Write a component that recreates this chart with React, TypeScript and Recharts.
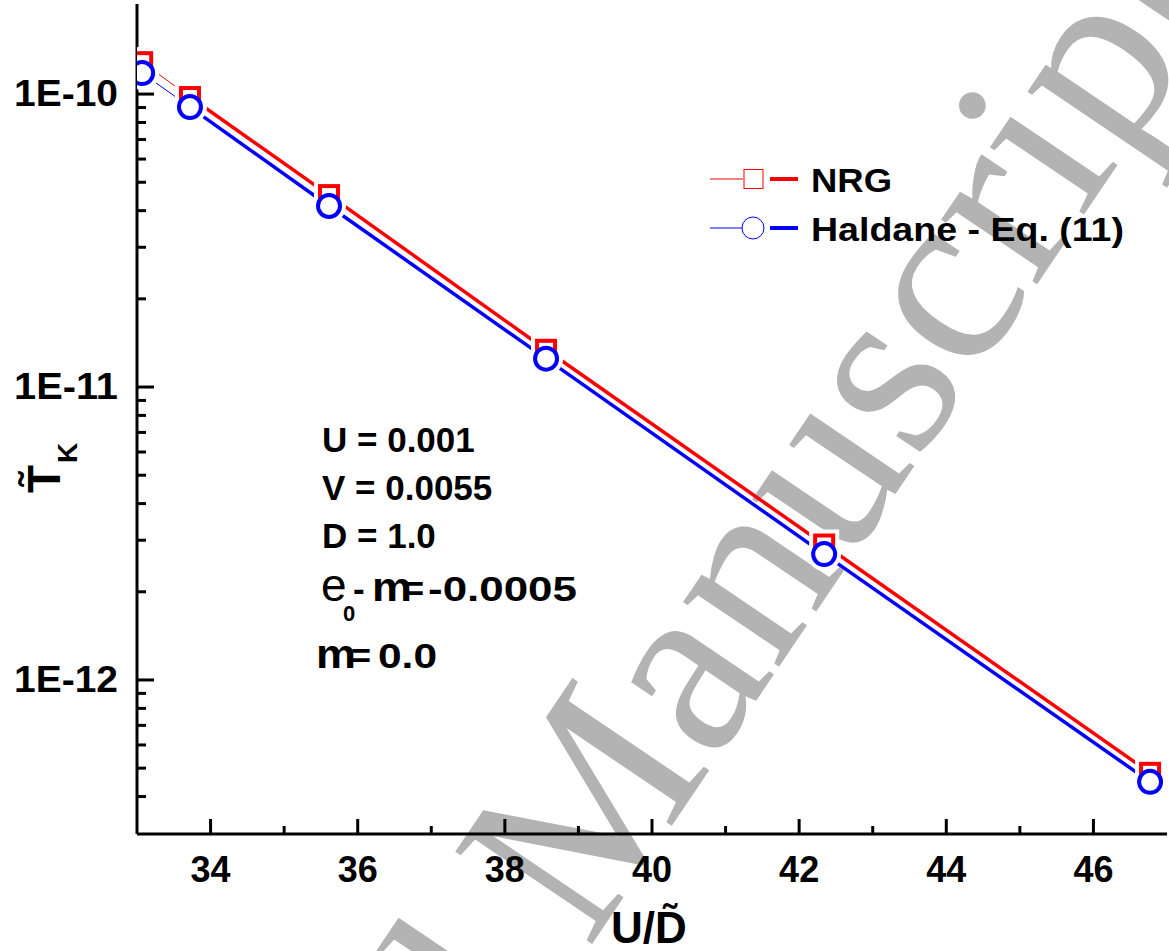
import React from 'react';
import { LineChart, Line, XAxis, YAxis, Legend } from 'recharts';

// Kondo temperature vs U/D (log scale) — NRG vs Haldane formula
const FONT = '"Liberation Sans", Arial, Helvetica, sans-serif';
const SERIF = '"Liberation Serif", "Times New Roman", serif';
const RED = '#ff0000';
const BLUE = '#0000ff';

const uOverD = [33.07, 33.72, 35.61, 38.56, 42.34, 46.77];
const nrgTk = [1.285e-10, 9.77e-11, 4.52e-11, 1.34e-11, 2.9e-12, 4.82e-13];
const haldaneTk = [1.18e-10, 9.03e-11, 4.15e-11, 1.25e-11, 2.69e-12, 4.49e-13];

const xTicks = [34, 35, 36, 37, 38, 39, 40, 41, 42, 43, 44, 45, 46];
const xMajor = [34, 36, 38, 40, 42, 44, 46];
const yTicks = [
  4e-13, 5e-13, 6e-13, 7e-13, 8e-13, 9e-13,
  1e-12, 2e-12, 3e-12, 4e-12, 5e-12, 6e-12, 7e-12, 8e-12, 9e-12,
  1e-11, 2e-11, 3e-11, 4e-11, 5e-11, 6e-11, 7e-11, 8e-11, 9e-11,
  1e-10,
];
const yMajor = [1e-12, 1e-11, 1e-10];
const yMajorLabels = ['1E-12', '1E-11', '1E-10'];

const paramLines = ['U = 0.001', 'V = 0.0055', 'D = 1.0'];
const legendOrder = ['NRG', 'Haldane - Eq. (11)'];

// thin segment between the first two points, thick afterwards
const data = uOverD.map((x, i) => ({
  x,
  nrg: nrgTk[i],
  hal: haldaneTk[i],
  nrgThick: i === 0 ? null : nrgTk[i],
  halThick: i === 0 ? null : haldaneTk[i],
}));

const LeftTick = ({ x, y, payload }: any) => {
  const idx = yMajor.indexOf(payload.value);
  const major = idx >= 0;
  return (
    <g>
      <line x1={x} x2={x + (major ? 17 : 9)} y1={y} y2={y} stroke="#000" strokeWidth={3} />
      {major && (
        <text x={x - 19} y={y + 12} textAnchor="end" fontFamily={FONT} fontWeight="bold" fontSize={36}
          textLength={104} lengthAdjust="spacingAndGlyphs" fill="#000">
          {yMajorLabels[idx]}
        </text>
      )}
    </g>
  );
};

const RightTick = ({ x, y, payload }: any) => {
  const major = yMajor.includes(payload.value);
  return <line x1={x} x2={x - (major ? 17 : 9)} y1={y} y2={y} stroke="#000" strokeWidth={3} />;
};

const BottomTick = ({ x, y, payload }: any) => {
  const major = xMajor.includes(payload.value);
  return (
    <g>
      <line x1={x} x2={x} y1={y} y2={y - (major ? 15 : 8)} stroke="#000" strokeWidth={3} />
      {major && (
        <text x={x} y={y + 48} textAnchor="middle" fontFamily={FONT} fontWeight="bold" fontSize={36} fill="#000">
          {payload.value}
        </text>
      )}
    </g>
  );
};

const TopTick = ({ x, y, payload }: any) => {
  const major = xMajor.includes(payload.value);
  return <line x1={x} x2={x} y1={y} y2={y + (major ? 15 : 8)} stroke="#000" strokeWidth={3} />;
};

// white knock-outs that break the lines around each marker
const SquareHalo = ({ cx, cy, index }: any) =>
  cx == null || cy == null ? <g key={`sh${index}`} /> : (
    <rect key={`sh${index}`} x={cx - 15} y={cy - 15} width={30} height={30} fill="#fff" />
  );

const CircleHalo = ({ cx, cy, index }: any) =>
  cx == null || cy == null ? <g key={`ch${index}`} /> : (
    <circle key={`ch${index}`} cx={cx} cy={cy} r={17} fill="#fff" />
  );

const SquareDot = ({ cx, cy, index }: any) =>
  cx == null || cy == null ? <g key={`s${index}`} /> : (
    <rect key={`s${index}`} x={cx - 9} y={cy - 9} width={18} height={18} fill="#fff" stroke={RED} strokeWidth={4} />
  );

const CircleDot = ({ cx, cy, index }: any) =>
  cx == null || cy == null ? <g key={`c${index}`} /> : (
    <circle key={`c${index}`} cx={cx} cy={cy} r={11} fill="#fff" stroke={BLUE} strokeWidth={4} />
  );

const markerOf: Record<string, string> = { nrg: 'square', hal: 'circle' };
const legendTextWidth: Record<string, number> = { NRG: 81, 'Haldane - Eq. (11)': 313 };

const LegendContent = ({ payload }: any) => {
  const items = (payload || [])
    .filter((p: any) => legendOrder.includes(p.value))
    .sort((a: any, b: any) => legendOrder.indexOf(a.value) - legendOrder.indexOf(b.value));
  return (
    <svg width={460} height={110} style={{ overflow: 'visible' }}>
      {items.map((entry: any, i: number) => {
        const cy = 29 + i * 49;
        const c = entry.color;
        return (
          <g key={entry.value}>
            <line x1={5} x2={38} y1={cy} y2={cy} stroke={c} strokeWidth={1} />
            {markerOf[entry.dataKey] === 'square' ? (
              <rect x={39} y={cy - 9.5} width={19} height={19} fill="#fff" stroke={c} strokeWidth={1} />
            ) : (
              <circle cx={48} cy={cy} r={11} fill="#fff" stroke={c} strokeWidth={1} />
            )}
            <line x1={65} x2={93} y1={cy} y2={cy} stroke={c} strokeWidth={4} />
            <text x={106} y={cy + 13} fontFamily={FONT} fontWeight="bold" fontSize={33}
              textLength={legendTextWidth[entry.value]} lengthAdjust="spacingAndGlyphs" fill="#000">
              {entry.value}
            </text>
          </g>
        );
      })}
    </svg>
  );
};

export default function App() {
  return (
    <div style={{ position: 'absolute', left: 0, top: 0, width: 1169, height: 951, background: '#fff', overflow: 'hidden' }}>
      {/* journal watermark, behind the plot */}
      <svg width={1169} height={951} style={{ position: 'absolute', left: 0, top: 0 }}>
        <g transform="translate(588,950) rotate(-56)" fontFamily={SERIF} fontSize={252} fill="#b3b3b3">
          <text x={-62} y={0} textAnchor="end">Accepted</text>
          <text x={0} y={0}>Manuscript</text>
        </g>
      </svg>

      <div style={{ position: 'absolute', left: 0, top: 0 }}>
        <LineChart width={1169} height={951} data={data} margin={{ top: 4, right: 2, left: 0, bottom: 0 }}>
          <XAxis
            xAxisId="b"
            dataKey="x"
            type="number"
            domain={[33, 47]}
            ticks={xTicks}
            interval={0}
            allowDataOverflow
            height={117}
            tickSize={0}
            tickMargin={0}
            tickLine={false}
            axisLine={{ stroke: '#000', strokeWidth: 3 }}
            tick={<BottomTick />}
          />
          <XAxis
            xAxisId="t"
            orientation="top"
            type="number"
            domain={[33, 47]}
            ticks={xTicks}
            interval={0}
            allowDataOverflow
            height={0}
            tickSize={0}
            tickMargin={0}
            tickLine={false}
            axisLine={{ stroke: '#000', strokeWidth: 3 }}
            tick={<TopTick />}
          />
          <YAxis
            yAxisId="l"
            type="number"
            scale="log"
            domain={[2.98e-13, 2.03e-10]}
            ticks={yTicks}
            interval={0}
            allowDataOverflow
            width={137}
            tickSize={0}
            tickMargin={0}
            tickLine={false}
            axisLine={{ stroke: '#000', strokeWidth: 3 }}
            tick={<LeftTick />}
          />
          <YAxis
            yAxisId="r"
            orientation="right"
            type="number"
            scale="log"
            domain={[2.98e-13, 2.03e-10]}
            ticks={yTicks}
            interval={0}
            allowDataOverflow
            width={0}
            tickSize={0}
            tickMargin={0}
            tickLine={false}
            axisLine={{ stroke: '#000', strokeWidth: 3 }}
            tick={<RightTick />}
          />
          <Legend
            layout="horizontal"
            verticalAlign="middle"
            align="center"
            content={<LegendContent />}
            wrapperStyle={{ position: 'absolute', left: 705, top: 150, width: 460, height: 110 }}
          />
          {/* thick lines from the 2nd point on, thin lines through all points */}
          <Line xAxisId="b" yAxisId="l" dataKey="nrgThick" stroke={RED} strokeWidth={3.5} dot={false} activeDot={false} legendType="none" isAnimationActive={false} />
          <Line xAxisId="b" yAxisId="l" dataKey="halThick" stroke={BLUE} strokeWidth={3.5} dot={false} activeDot={false} legendType="none" isAnimationActive={false} />
          <Line xAxisId="b" yAxisId="l" dataKey="nrg" name="nrg-thin" stroke={RED} strokeWidth={1} dot={false} activeDot={false} legendType="none" isAnimationActive={false} />
          <Line xAxisId="b" yAxisId="l" dataKey="hal" name="hal-thin" stroke={BLUE} strokeWidth={1} dot={false} activeDot={false} legendType="none" isAnimationActive={false} />
          {/* knock-outs, then markers */}
          <Line xAxisId="b" yAxisId="l" dataKey="nrg" name="nrg-halo" stroke={RED} strokeOpacity={0} dot={<SquareHalo />} activeDot={false} legendType="none" isAnimationActive={false} />
          <Line xAxisId="b" yAxisId="l" dataKey="hal" name="hal-halo" stroke={BLUE} strokeOpacity={0} dot={<CircleHalo />} activeDot={false} legendType="none" isAnimationActive={false} />
          <Line xAxisId="b" yAxisId="l" dataKey="nrg" name="NRG" stroke={RED} strokeOpacity={0} dot={<SquareDot />} activeDot={false} isAnimationActive={false} />
          <Line xAxisId="b" yAxisId="l" dataKey="hal" name="Haldane - Eq. (11)" stroke={BLUE} strokeOpacity={0} dot={<CircleDot />} activeDot={false} isAnimationActive={false} />
        </LineChart>
      </div>

      {/* axis titles and parameter annotations */}
      <svg width={1169} height={951} style={{ position: 'absolute', left: 0, top: 0, pointerEvents: 'none' }}>
        <g transform="translate(60,493) rotate(-90)" fontFamily={FONT} fontWeight="bold" fill="#000">
          <text x={0} y={0} fontSize={46}>{'T\u0303'}</text>
          <text x={30} y={17} fontSize={28}>K</text>
        </g>
        <text x={611} y={943} fontFamily={FONT} fontWeight="bold" fontSize={44} fill="#000">{'U/D\u0303'}</text>

        <g fontFamily={FONT} fontWeight="bold" fontSize={35} fill="#000">
          {paramLines.map((t, i) => (
            <text key={t} x={322} y={452 + i * 48}>{t}</text>
          ))}
          <text x={321} y={601} fontSize={46} fontWeight="normal">e</text>
          <text x={343} y={621} fontSize={22}>0</text>
          <text x={353} y={601}>-</text>
          <text x={372} y={601} fontSize={40} textLength={40} lengthAdjust="spacingAndGlyphs">m</text>
          <text x={405} y={601} textLength={19} lengthAdjust="spacingAndGlyphs">=</text>
          <text x={428} y={601} textLength={149} lengthAdjust="spacingAndGlyphs">-0.0005</text>
          <text x={316} y={668} fontSize={40} textLength={40} lengthAdjust="spacingAndGlyphs">m</text>
          <text x={351} y={668} textLength={20} lengthAdjust="spacingAndGlyphs">=</text>
          <text x={378} y={668} textLength={59} lengthAdjust="spacingAndGlyphs">0.0</text>
        </g>
      </svg>
    </div>
  );
}
